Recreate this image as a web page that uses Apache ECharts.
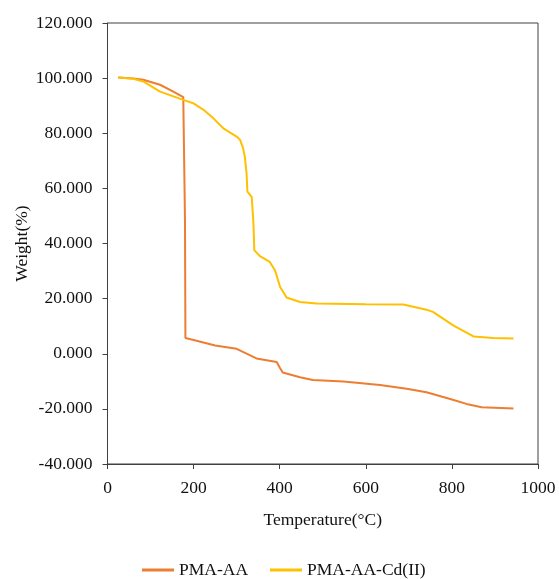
<!DOCTYPE html>
<html><head><meta charset="utf-8">
<script src="https://cdn.jsdelivr.net/npm/echarts@6/dist/echarts.min.js"></script>
<style>html,body{margin:0;padding:0;background:#fff}#c{width:559px;height:579px}</style>
</head><body><div id="c"></div>
<script>
const seriesNames = ['PMA-AA', 'PMA-AA-Cd(II)'];
const tempA = [25, 60, 83, 122, 153, 176, 179, 180, 181, 200, 250, 300, 346, 393, 400, 407, 447, 477, 548, 633, 695, 741, 796, 834, 869, 943];
const weightA = [100.2, 99.9, 99.4, 97.6, 95.1, 93.1, 60, 48, 5.7, 5.0, 3.0, 1.8, -1.7, -3.0, -5.0, -6.8, -8.5, -9.5, -10.1, -11.3, -12.7, -14.0, -16.4, -18.2, -19.4, -19.9];
const tempB = [25, 60, 83, 122, 176, 199, 223, 246, 269, 300, 308, 315, 319, 323, 325, 335, 339, 341, 354, 377, 389, 401, 416, 447, 486, 600, 687, 741, 757, 803, 850, 896, 943];
const weightB = [100.2, 99.8, 98.8, 95.1, 92.1, 90.9, 88.5, 85.4, 81.8, 78.8, 77.6, 74.5, 71.5, 65.5, 58.8, 56.9, 47.3, 37.6, 35.4, 33.3, 30.3, 24.2, 20.4, 18.8, 18.2, 18.0, 17.9, 16.0, 15.1, 10.3, 6.3, 5.7, 5.5];
const yMin = -40, yMax = 120, yStep = 20;
const xMin = 0, xMax = 1000, xStep = 200;
const colors = ['#ED7D31', '#FFC000'];

const zip = (a, b) => a.map((v, i) => [v, b[i]]);
const font = 'Liberation Serif';
const fs = 17.5;
const txt = '#111';
const chart = echarts.init(document.getElementById('c'));
chart.setOption({
  animation: false,
  grid: { left: 107.5, right: 21, top: 23, bottom: 115, show: true, borderColor: '#404040', borderWidth: 1, containLabel: false, outerBoundsMode: 'none' },
  legend: {
    top: 556, left: 137, icon: 'rect', itemWidth: 32, itemHeight: 3, itemGap: 22,
    textStyle: { fontFamily: font, fontSize: fs, color: txt },
    data: seriesNames
  },
  xAxis: {
    type: 'value', min: xMin, max: xMax, interval: xStep,
    name: 'Temperature(°C)', nameLocation: 'middle', nameGap: 47, nameMoveOverlap: false,
    nameTextStyle: { fontFamily: font, fontSize: fs, color: txt },
    axisLine: { onZero: false, lineStyle: { color: '#404040', width: 1 } },
    axisTick: { show: true, length: 5, lineStyle: { color: '#404040' } },
    axisLabel: { fontFamily: font, fontSize: fs, color: txt, margin: 15, formatter: v => String(v) },
    splitLine: { show: false }
  },
  yAxis: {
    type: 'value', min: yMin, max: yMax, interval: yStep,
    name: 'Weight(%)', nameLocation: 'middle', nameGap: 76, nameRotate: 90, nameMoveOverlap: false,
    nameTextStyle: { fontFamily: font, fontSize: fs, color: txt },
    axisLine: { show: true, lineStyle: { color: '#404040', width: 1 } },
    axisTick: { show: true, length: 5, lineStyle: { color: '#404040' } },
    axisLabel: { fontFamily: font, fontSize: fs, color: txt, margin: 15, formatter: v => v.toFixed(3) },
    splitLine: { show: false }
  },
  series: [
    { name: seriesNames[0], type: 'line', data: zip(tempA, weightA), symbol: 'none', lineStyle: { width: 2, color: colors[0] }, itemStyle: { color: colors[0] } },
    { name: seriesNames[1], type: 'line', data: zip(tempB, weightB), symbol: 'none', lineStyle: { width: 2, color: colors[1] }, itemStyle: { color: colors[1] } }
  ]
});
</script></body></html>
